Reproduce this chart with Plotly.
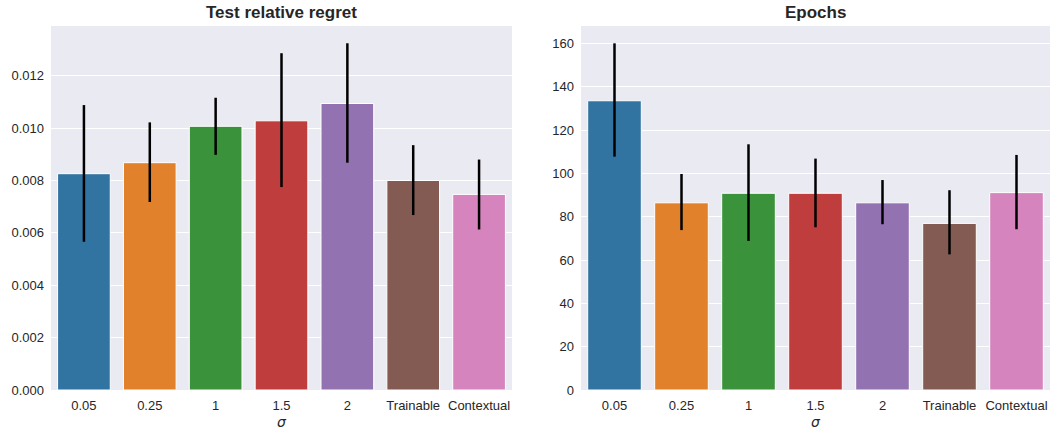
import plotly.graph_objects as go
from plotly.subplots import make_subplots

categories = ["0.05", "0.25", "1", "1.5", "2", "Trainable", "Contextual"]
colors = ["#3274A1", "#E1812C", "#3A923A", "#C03D3E", "#9372B2", "#845B53", "#D684BD"]

regret_mean = [0.00826, 0.00868, 0.01007, 0.01028, 0.01094, 0.00800, 0.00747]
regret_hi = [0.01088, 0.01022, 0.01116, 0.01286, 0.01324, 0.00935, 0.00880]
regret_lo = [0.00566, 0.00718, 0.00898, 0.00775, 0.00868, 0.00668, 0.00613]

epochs_mean = [133.5, 86.4, 90.8, 90.8, 86.4, 76.9, 91.1]
epochs_hi = [160.0, 99.7, 113.4, 106.8, 96.9, 92.2, 108.5]
epochs_lo = [107.7, 73.8, 68.8, 75.1, 76.5, 62.6, 74.2]

W, H = 1060, 435
ML, MR, MT, MB = 51, 10, 26, 45
PW = W - ML - MR
PH = H - MT - MB

fig = make_subplots(rows=1, cols=2)

def add(col, mean, hi, lo):
    fig.add_trace(go.Bar(
        x=categories, y=mean,
        marker=dict(color=colors, line=dict(color="white", width=1)),
        width=0.8,
        error_y=dict(type="data", symmetric=False,
                     array=[h - m for h, m in zip(hi, mean)],
                     arrayminus=[m - l for m, l in zip(mean, lo)],
                     color="black", thickness=2.5, width=0),
        showlegend=False,
    ), row=1, col=col)

add(1, regret_mean, regret_hi, regret_lo)
add(2, epochs_mean, epochs_hi, epochs_lo)

font_tick = dict(family="Liberation Sans, Arial, sans-serif", size=13, color="#262626")

fig.update_layout(
    width=W, height=H,
    margin=dict(l=ML, r=MR, t=MT, b=MB, autoexpand=False),
    paper_bgcolor="white",
    plot_bgcolor="#EAEAF2",
    bargap=0.2,
    font=font_tick,
    xaxis=dict(domain=[0, (512 - ML) / PW]),
    xaxis2=dict(domain=[(581 - ML) / PW, 1]),
    yaxis=dict(domain=[0, 1], range=[0, 0.0139], dtick=0.002, tickformat=".3f"),
    yaxis2=dict(domain=[0, 1], range=[0, 168], dtick=20),
)
for ax in ["xaxis", "xaxis2"]:
    fig.layout[ax].update(showgrid=False, zeroline=False, showline=False, ticks="",
                          automargin=False,
                          tickfont=font_tick, ticklabelstandoff=6,
                          title=dict(text="<i>σ</i>", standoff=5,
                                     font=dict(family="DejaVu Sans", size=14, color="#262626")))
for ax in ["yaxis", "yaxis2"]:
    fig.layout[ax].update(showgrid=True, gridcolor="white", gridwidth=1, zeroline=False,
                          automargin=False,
                          showline=False, ticks="", tickfont=font_tick, ticklabelstandoff=6)

for txt, x0, x1 in [("Test relative regret", 51, 512), ("Epochs", 581, 1050)]:
    fig.add_annotation(text="<b>" + txt + "</b>",
                       x=((x0 + x1) / 2 - ML) / PW, y=1 + (MT - 13) / PH,
                       xref="paper", yref="paper", showarrow=False,
                       xanchor="center", yanchor="middle",
                       font=dict(family="Liberation Sans, Arial, sans-serif", size=17, color="#262626"))

fig.write_html("out.html", config={"displayModeBar": False},
               post_script="document.body.style.margin='0';")
